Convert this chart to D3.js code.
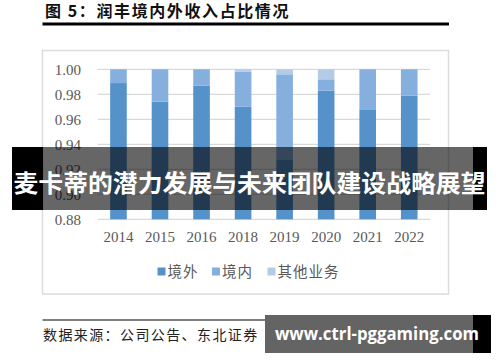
<!DOCTYPE html>
<html><head><meta charset="utf-8">
<script src="https://cdn.jsdelivr.net/npm/d3@7"></script>
<style>body{margin:0;background:#fff}svg{display:block}</style>
</head><body>
<script>
const years = ["2014","2015","2016","2018","2019","2020","2021","2022"];
const overseas = [0.989, 0.974, 0.987, 0.970, 0.928, 0.983, 0.968, 0.979];
const domestic = [0.011, 0.026, 0.013, 0.028, 0.068, 0.009, 0.032, 0.021];
const other    = [0.000, 0.000, 0.000, 0.002, 0.004, 0.008, 0.000, 0.000];
const seriesNames = ["境外","境内","其他业务"];
const yTicks = [0.88, 0.90, 0.92, 0.94, 0.96, 0.98, 1.00];
const colors = ["#5592ca","#85b0de","#b4cbe8"];

const W = 500, H = 362;
const svg = d3.select("body").append("svg").attr("width", W).attr("height", H);

// Title
svg.append("text").attr("x", 45).attr("y", 17)
  .attr("font-family", "'Noto Sans CJK SC'").attr("font-weight", 700)
  .attr("font-size", 16).attr("letter-spacing", 1.6).attr("fill", "#111")
  .text("图 5：润丰境内外收入占比情况");
svg.append("line").attr("x1", 42.5).attr("x2", 449).attr("y1", 24).attr("y2", 24)
  .attr("stroke", "#000").attr("stroke-width", 3);

// chart border
svg.append("rect").attr("x", 42.5).attr("y", 50.5).attr("width", 406).attr("height", 243.5)
  .attr("fill", "none").attr("stroke", "#dcdcdc").attr("stroke-width", 1.5);

const x = d3.scaleBand().domain(years).range([97.7, 430]).paddingInner(0.6).paddingOuter(0.3);
const y = d3.scaleLinear().domain([0.88, 1.0]).range([219.3, 69.3]).clamp(true);

// grid
svg.append("g").selectAll("line").data(yTicks).join("line")
  .attr("x1", 97.7).attr("x2", 430).attr("y1", d => y(d)).attr("y2", d => y(d))
  .attr("stroke", "#d9d9d9").attr("stroke-width", 1.2);

// y axis
const yAxis = d3.axisLeft(y).tickValues(yTicks).tickFormat(d3.format(".2f")).tickSize(0).tickPadding(0);
const gy = svg.append("g").attr("transform", "translate(81,0)").call(yAxis);
gy.select(".domain").remove();
gy.selectAll("text").attr("font-family", "'Liberation Serif'").attr("font-size", 15).attr("fill", "#595959");

// x axis
const xAxis = d3.axisBottom(x).tickSize(0).tickPadding(0);
const gx = svg.append("g").attr("transform", "translate(0,231)").call(xAxis);
gx.select(".domain").remove();
gx.selectAll("text").attr("font-family", "'Liberation Serif'").attr("font-size", 15).attr("fill", "#595959");

// stacked bars
const rows = years.map((yr, i) => ({year: yr, a: overseas[i], b: domestic[i], c: other[i]}));
const stack = d3.stack().keys(["a","b","c"])(rows);
svg.append("g").selectAll("g").data(stack).join("g").attr("fill", (d, i) => colors[i])
  .selectAll("rect").data(d => d).join("rect")
  .attr("x", d => x(d.data.year)).attr("width", x.bandwidth())
  .attr("y", d => y(d[1])).attr("height", d => Math.max(0, y(d[0]) - y(d[1])));

// legend
const legX = [157.5, 212, 267.5];
const leg = svg.append("g");
seriesNames.forEach((n, i) => {
  leg.append("rect").attr("x", legX[i]).attr("y", 267.5).attr("width", 8).attr("height", 8).attr("fill", colors[i]);
  leg.append("text").attr("x", legX[i] + 10).attr("y", 277).attr("font-family", "'Noto Sans CJK SC'")
    .attr("font-size", 14.5).attr("letter-spacing", 1).attr("fill", "#595959").text(n);
});

// source
svg.append("line").attr("x1", 42.5).attr("x2", 449).attr("y1", 320).attr("y2", 320)
  .attr("stroke", "#000").attr("stroke-width", 1.2);
svg.append("text").attr("x", 43).attr("y", 340).attr("font-family", "'Noto Sans CJK SC'")
  .attr("font-size", 14).attr("letter-spacing", 1.4).attr("fill", "#222")
  .text("数据来源：公司公告、东北证券");

// banner overlay
svg.append("rect").attr("x", 12).attr("y", 147).attr("width", 31).attr("height", 63).attr("fill", "#000");
svg.append("rect").attr("x", 473).attr("y", 147).attr("width", 14).attr("height", 63).attr("fill", "#000");
svg.append("rect").attr("x", 43).attr("y", 147).attr("width", 430).attr("height", 63).attr("fill", "rgba(0,0,0,0.6)");
svg.append("text").attr("x", 249.5).attr("y", 192).attr("text-anchor", "middle")
  .attr("font-family", "'Noto Sans CJK SC'").attr("font-weight", 700).attr("font-size", 23.5)
  .attr("fill", "#fff").attr("textLength", 472).attr("lengthAdjust", "spacingAndGlyphs")
  .text("麦卡蒂的潜力发展与未来团队建设战略展望");

// watermark
svg.append("rect").attr("x", 265).attr("y", 315).attr("width", 208).attr("height", 38).attr("fill", "#646464");
svg.append("rect").attr("x", 473).attr("y", 315).attr("width", 18).attr("height", 38).attr("fill", "#000");
svg.append("text").attr("x", 275).attr("y", 340)
  .attr("font-family", "'Open Sans'").attr("font-weight", 700).attr("font-size", 18)
  .attr("fill", "#fff").attr("textLength", 204).attr("lengthAdjust", "spacingAndGlyphs")
  .text("www.ctrl-pggaming.com");
</script>
</body></html>
